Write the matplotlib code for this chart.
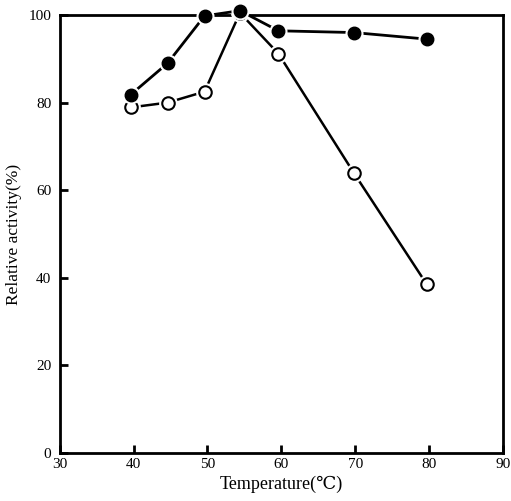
import matplotlib
matplotlib.use('Agg')
import matplotlib.pyplot as plt

# data
temp = [39.6, 44.6, 49.6, 54.4, 59.6, 69.8, 79.7]
filled = [81.8, 89.0, 99.8, 101.0, 96.4, 96.0, 94.5]
opened = [78.9, 80.0, 82.5, 100.5, 91.2, 64.0, 38.5]

xticks = [30, 40, 50, 60, 70, 80, 90]
yticks = [0, 20, 40, 60, 80, 100]

plt.rcParams['font.family'] = ['Liberation Serif', 'DejaVu Serif']

fig = plt.figure(figsize=(5.11, 5.01), dpi=100)
ax = fig.add_axes([0.117, 0.096, 0.867, 0.874])

# open circles series (line first, gaps around markers)
ax.plot(temp, opened, color='black', lw=1.8, zorder=2, clip_on=False)
ax.plot(temp, opened, 'o', ms=12.5, color='white', mec='white', zorder=3, clip_on=False)
ax.plot(temp, opened, 'o', ms=9, mfc='white', mec='black', mew=1.5, zorder=4, clip_on=False)

# filled circles series
ax.plot(temp, filled, color='black', lw=2, zorder=5, clip_on=False)
ax.plot(temp, filled, 'o', ms=12, color='white', mec='white', zorder=6, clip_on=False)
ax.plot(temp, filled, 'o', ms=9, color='black', zorder=7, clip_on=False)

ax.set_xlim(30, 90)
ax.set_ylim(0, 100)
ax.set_xticks(xticks)
ax.set_yticks(yticks)
ax.tick_params(direction='in', length=6, width=2, labelsize=11)
ax.tick_params(axis='y', pad=6)
ax.tick_params(axis='x', pad=4)

for s in ax.spines.values():
    s.set_linewidth(2)

ax.set_xlabel('Temperature(℃)', fontsize=13, labelpad=3)
ax.set_ylabel('Relative activity(%)', fontsize=12.5, labelpad=5)

fig.savefig('out.png', dpi=100)
